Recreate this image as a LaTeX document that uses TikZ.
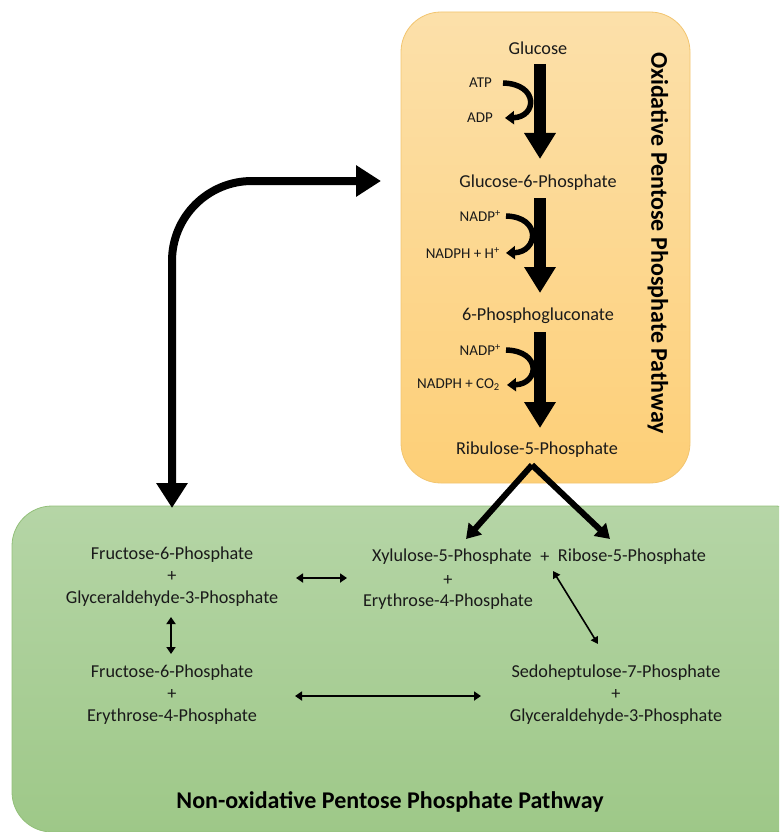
\documentclass[tikz,border=0pt]{standalone}
\usepackage{fontspec}
\setmainfont{Carlito}
\usetikzlibrary{arrows.meta,fit}
\definecolor{otop}{HTML}{FCE0AA}
\definecolor{obot}{HTML}{FDCF77}
\definecolor{oline}{HTML}{F2C570}
\definecolor{gtop}{HTML}{B5D5A6}
\definecolor{gbot}{HTML}{9EC888}
\definecolor{gline}{HTML}{93C07A}
\definecolor{txt}{HTML}{1A1A1A}
\begin{document}
\begin{tikzpicture}[x=1pt,y=-1pt,
  mol/.style={text=txt,font=\fontsize{18.2}{22}\selectfont,inner sep=1pt,align=center},
  lab/.style={text=txt,font=\fontsize{15}{16}\selectfont,inner sep=1pt,anchor=east},
  ttl/.style={text=black,font=\bfseries\fontsize{24}{26}\selectfont,inner sep=0pt},
  bigarrow/.style={line width=12pt,-{Triangle[width=30pt,length=26pt]}},
  sidearrow/.style={line width=5.5pt,-{Triangle[width=13pt,length=9pt]}},
  varrow/.style={line width=6pt,-{Triangle[width=17pt,length=14pt]}},
  loop/.style={line width=8pt,{Triangle[width=30pt,length=25pt]}-{Triangle[width=30pt,length=25pt]},rounded corners=80pt},
  dbl/.style={line width=2.5pt,{Triangle[width=9pt,length=7pt]}-{Triangle[width=9pt,length=7pt]}},
  dbld/.style={line width=1.6pt,{Triangle[width=8pt,length=7pt]}-{Triangle[width=8pt,length=7pt]}},
  box/.style={rounded corners=40pt,inner sep=0pt,line width=0.8pt}
]
\useasboundingbox (0,0) rectangle (779,832);
% boxes
\node[box,draw=oline,top color=otop,bottom color=obot,fit={(401,12) (690,483)}] (ox) {};
\begin{scope}
\clip (0,0) rectangle (779,832);
\node[box,draw=gline,top color=gtop,bottom color=gbot,fit={(12,506) (815,832)}] (nonox) {};
\end{scope}

% oxidative branch
\node[mol] (glc) at (538,48) {Glucose};
\node[mol] (g6p) at (538,183) {Glucose-6-Phosphate};
\node[mol] (pg) at (538,316) {6-Phosphogluconate};
\node[mol] (ru5p) at (537,450) {Ribulose-5-Phosphate};

\draw[bigarrow] (540,64) coordinate (a1s) -- (540,159) coordinate (a1e);
\draw[bigarrow] (540,198) coordinate (a2s) -- (540,293) coordinate (a2e);
\draw[bigarrow] (540,332) coordinate (a3s) -- (540,428) coordinate (a3e);

\node[lab] (atp) at (493,83) {ATP};
\node[lab] (adp) at (494,118) {ADP};
\node[lab] (nadp1) at (502,216) {NADP\textsuperscript{+}};
\node[lab] (nadph1) at (501,253) {NADPH + H\textsuperscript{+}};
\node[lab] (nadp2) at (502,350) {NADP\textsuperscript{+}};
\node[lab] (nadph2) at (501,385) {NADPH + CO\textsubscript{2}};

\draw[sidearrow] ([xshift=10pt]atp.east) .. controls +(36,1) and +(32,-1) .. ([xshift=11pt]adp.east);
\draw[sidearrow] ([xshift=4pt]nadp1.east) .. controls +(36,1) and +(32,-1) .. ([xshift=5pt]nadph1.east);
\draw[sidearrow] ([xshift=4pt]nadp2.east) .. controls +(36,1) and +(32,-1) .. ([xshift=6pt]nadph2.east);

\node[ttl,rotate=-90] (oxt) at (658,243) {Oxidative Pentose Phosphate Pathway};

% split to xylulose / ribose
\coordinate (apex) at (532,465);
\coordinate (xtip) at (466,539);
\coordinate (rtip) at (610,539);
\draw[varrow,line join=miter] (apex) -- (xtip);
\draw[varrow] (apex) -- (rtip);

% loop arrow between boxes
\coordinate (lb) at (172,508);
\coordinate (lt) at (381,181);
\draw[loop] (lb) |- (lt);

% non-oxidative branch
\node[mol] (f6pg3p) at (172,577) {Fructose-6-Phosphate\\+\\Glyceraldehyde-3-Phosphate};
\node[mol] (f6pe4p) at (172,695) {Fructose-6-Phosphate\\+\\Erythrose-4-Phosphate};
\node[mol] (s7pg3p) at (616,695) {Sedoheptulose-7-Phosphate\\+\\Glyceraldehyde-3-Phosphate};
\node[mol] (xu5p) at (452,557) {Xylulose-5-Phosphate};
\node[mol] (plus1) at (545,557) {+};
\node[mol] (r5p) at (632,557) {Ribose-5-Phosphate};
\node[mol] (plus2) at (448,580) {+};
\node[mol] (e4p) at (448,602) {Erythrose-4-Phosphate};

\coordinate (d1a) at (296,578);
\coordinate (d1b) at (347,578);
\draw[dbl] (d1a) -- (d1b);
\coordinate (d2a) at (171,617);
\coordinate (d2b) at (171,654);
\draw[dbl] (d2a) -- (d2b);
\coordinate (d3a) at (295,696);
\coordinate (d3b) at (481,696);
\draw[dbl] (d3a) -- (d3b);
\coordinate (d4a) at (553,571);
\coordinate (d4b) at (598,644);
\draw[dbld] (d4a) -- (d4b);

\node[ttl] (nont) at (390,802) {Non-oxidative Pentose Phosphate Pathway};
\end{tikzpicture}
\end{document}
